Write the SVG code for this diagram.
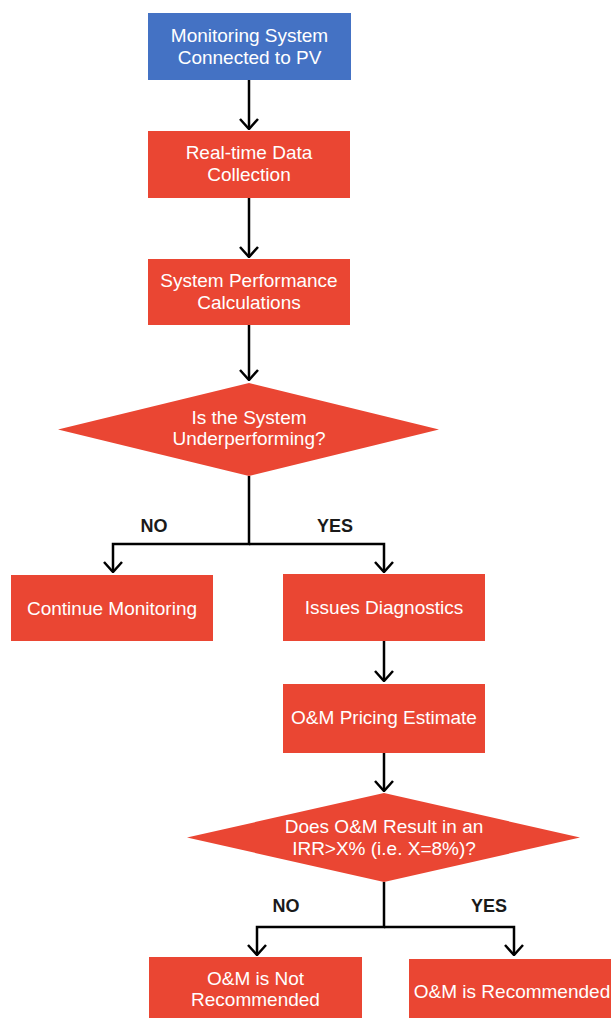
<svg xmlns="http://www.w3.org/2000/svg" width="611" height="1018" viewBox="0 0 611 1018">
<style>
.red{fill:#EA4633}
.blue{fill:#4472C4}
.t{font-family:"Liberation Sans",Arial,sans-serif;font-size:19px;fill:#fff;text-anchor:middle}
.lbl{font-family:"Liberation Sans",Arial,sans-serif;font-size:18px;font-weight:bold;fill:#1a1a1a;text-anchor:middle}
.c{fill:none;stroke:#000;stroke-width:2.5}
</style>
<defs>
<marker id="ah" viewBox="0 0 12 20" refX="11" refY="10" markerWidth="12" markerHeight="20" markerUnits="userSpaceOnUse" orient="auto">
<polyline points="1,1 11,10 1,19" fill="none" stroke="#000" stroke-width="2.5"/>
</marker>
</defs>
<rect width="611" height="1018" fill="#fff"/>
<g id="connectors">
<line class="c" x1="249" y1="80" x2="249" y2="129" marker-end="url(#ah)"/>
<line class="c" x1="249" y1="197" x2="249" y2="257" marker-end="url(#ah)"/>
<line class="c" x1="249" y1="325" x2="249" y2="380" marker-end="url(#ah)"/>
<polyline class="c" points="249,476 249,544 113,544 113,572" marker-end="url(#ah)"/>
<polyline class="c" points="249,544 384,544 384,572" marker-end="url(#ah)"/>
<line class="c" x1="384" y1="641" x2="384" y2="681" marker-end="url(#ah)"/>
<line class="c" x1="384" y1="753" x2="384" y2="791" marker-end="url(#ah)"/>
<polyline class="c" points="384,882 384,927 257,927 257,955" marker-end="url(#ah)"/>
<polyline class="c" points="384,927 514,927 514,955" marker-end="url(#ah)"/>
<text class="lbl" x="154" y="532">NO</text>
<text class="lbl" x="335" y="532">YES</text>
<text class="lbl" x="286" y="912">NO</text>
<text class="lbl" x="489" y="912">YES</text>
</g>
<g id="n1">
<rect class="blue" x="148" y="13" width="203" height="67"/>
<text class="t" x="249.5" y="42">Monitoring System</text>
<text class="t" x="249.5" y="64">Connected to PV</text>
</g>
<g id="n2">
<rect class="red" x="148" y="131" width="202" height="67"/>
<text class="t" x="249" y="159">Real-time Data</text>
<text class="t" x="249" y="181">Collection</text>
</g>
<g id="n3">
<rect class="red" x="148" y="259" width="202" height="66"/>
<text class="t" x="249" y="287">System Performance</text>
<text class="t" x="249" y="309">Calculations</text>
</g>
<g id="d1">
<polygon class="red" points="249,383 439,429.5 249,476 58,429.5"/>
<text class="t" x="249" y="424">Is the System</text>
<text class="t" x="249" y="445">Underperforming?</text>
</g>
<g id="n4">
<rect class="red" x="11" y="575" width="202" height="66"/>
<text class="t" x="112" y="615">Continue Monitoring</text>
</g>
<g id="n5">
<rect class="red" x="283" y="574" width="202" height="67"/>
<text class="t" x="384" y="614">Issues Diagnostics</text>
</g>
<g id="n6">
<rect class="red" x="283" y="684" width="202" height="69"/>
<text class="t" x="384" y="724">O&amp;M Pricing Estimate</text>
</g>
<g id="d2">
<polygon class="red" points="384,793 580,837.5 384,882 187,837.5"/>
<text class="t" x="384" y="833">Does O&amp;M Result in an</text>
<text class="t" x="384" y="855">IRR&gt;X% (i.e. X=8%)?</text>
</g>
<g id="n7">
<rect class="red" x="149" y="957" width="213" height="61"/>
<text class="t" x="255.5" y="985">O&amp;M is Not</text>
<text class="t" x="255.5" y="1006">Recommended</text>
</g>
<g id="n8">
<rect class="red" x="409" y="959" width="202" height="59"/>
<text class="t" x="512" y="998">O&amp;M is Recommended</text>
</g>
</svg>
